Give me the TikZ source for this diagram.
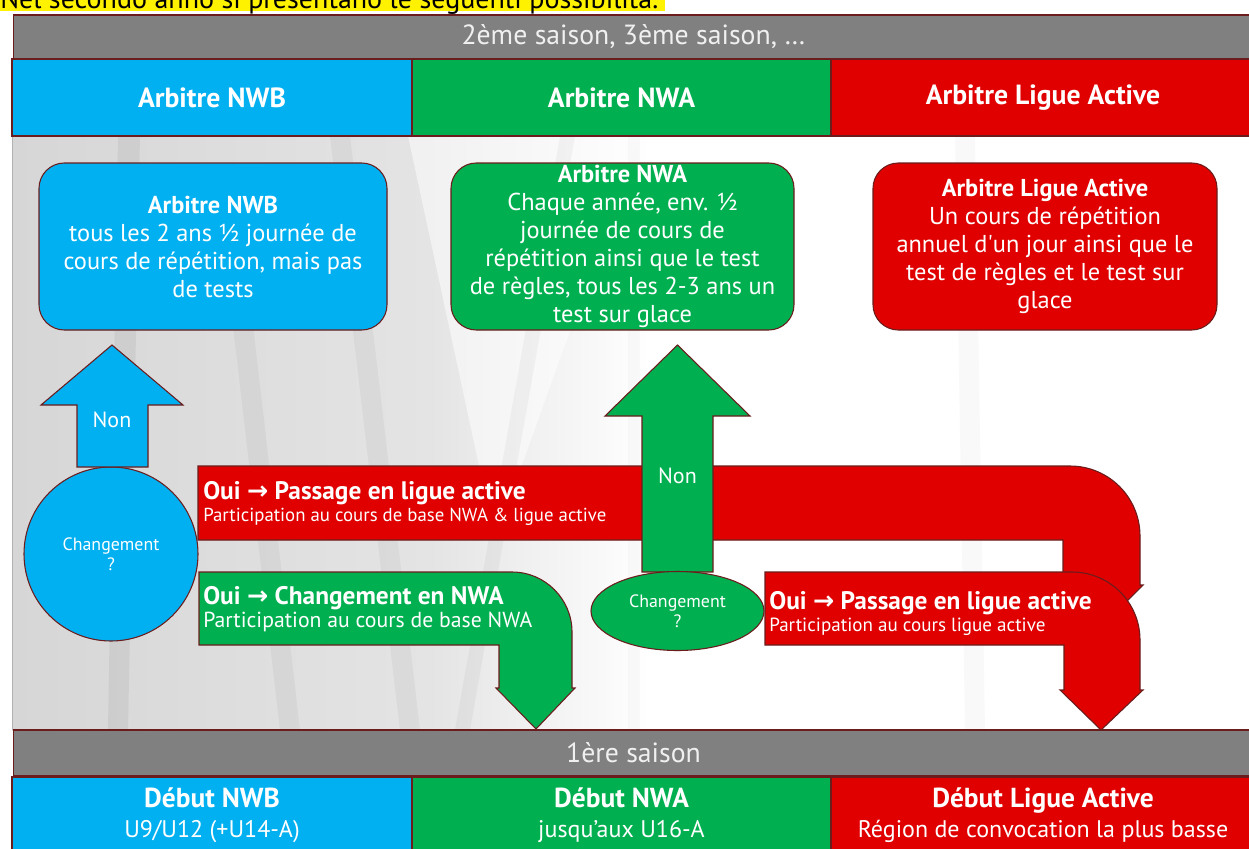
\documentclass[tikz,border=0pt]{standalone}
\usepackage{fontspec}
\setmainfont{PT Sans}
\newfontfamily\straightfont{PT Sans}
\newfontfamily\arrfont{DejaVu Sans}
\usetikzlibrary{shapes.geometric}
\definecolor{cblue}{HTML}{00B0F0}
\definecolor{cgreen}{HTML}{00B050}
\definecolor{cred}{HTML}{E00000}
\definecolor{cgray}{HTML}{808080}
\definecolor{cborder}{HTML}{6B1C1C}
\definecolor{bgA}{HTML}{D6D6D6}
\definecolor{bgB}{HTML}{E4E4E4}
\newcommand{\ra}{{\arrfont\bfseries →}}
\newcommand{\sq}{{\straightfont '}}
\tikzset{
  cell/.style={draw=cborder, line width=0.8pt, inner sep=0pt, text=white, align=center},
  rbox/.style={draw=cborder, line width=0.8pt, rounded corners=19pt, inner sep=0pt, text=white, align=center,
    font=\fontsize{18.3}{21}\selectfont},
  bshape/.style={draw=cborder, line width=0.8pt},
  hdrfont/.style={font=\fontsize{20.8}{24}\selectfont\bfseries},
  barfont/.style={font=\fontsize{20.8}{24}\selectfont, text=white!94!black},
  ouifont/.style={font=\fontsize{19}{22}\selectfont\bfseries},
  lbl/.style={inner sep=0pt, text=white, anchor=west},
}
\begin{document}
\begin{tikzpicture}[x=0.75pt,y=-0.75pt]
\useasboundingbox (0,0) rectangle (1249,849);
\clip (0,0) rectangle (1249,849);
% heading line (cut off at the top in the reference)
\fill[yellow] (0,-20) rectangle (665,11.5);
\node[anchor=base west, inner sep=0pt, font=\fontsize{21}{24}\selectfont] (intro) at (0,9) {Nel secondo anno si presentano le seguenti possibilità.};
% background
\fill[left color=bgA, right color=bgB] (12,136) rectangle (430,730);
\fill[left color=bgB, right color=white] (430,136) rectangle (650,730);
\fill[white] (650,136) rectangle (1260,730);
\fill[white, opacity=0.5] (408,136) -- (640,136) -- (495,540) -- cycle;
\fill[black, opacity=0.05] (118,136) -- (140,136) -- (128,730) -- (108,730) -- cycle;
\fill[black, opacity=0.04] (330,136) -- (350,136) -- (420,730) -- (400,730) -- cycle;
\fill[black, opacity=0.04] (230,300) -- (250,300) -- (300,730) -- (280,730) -- cycle;
\fill[black, opacity=0.035] (560,136) -- (575,136) -- (470,730) -- (455,730) -- cycle;
\fill[black, opacity=0.025] (955,136) -- (975,136) -- (985,730) -- (965,730) -- cycle;
\fill[black, opacity=0.02] (628,136) -- (640,136) -- (640,730) -- (628,730) -- cycle;
\draw[gray!60, line width=0.6pt] (12,136) -- (12,730);
% top table
\node[cell, fill=cgray, minimum width=930pt, minimum height=33pt, barfont] (top) at (633.5,37) {2ème saison, 3ème saison, …};
\node[cell, fill=cblue, minimum width=300pt, minimum height=57.75pt, hdrfont] (hNWB) at (212,97.5) {Arbitre NWB};
\node[cell, fill=cgreen, minimum width=314.25pt, minimum height=57.75pt, hdrfont] (hNWA) at (621.5,97.5) {Arbitre NWA};
\node[cell, fill=cred, minimum width=318pt, minimum height=57.75pt, hdrfont] (hLA) at (1043,97.5) {Arbitre Ligue Active};
% boxes
\node[rbox, fill=cblue, minimum width=261pt, minimum height=125.25pt] (bNWB) at (213,246.5)
  {\textbf{Arbitre NWB}\\tous les 2 ans ½ journée de\\cours de répétition, mais pas\\de tests};
\node[rbox, fill=cgreen, minimum width=257.25pt, minimum height=125.25pt] (bNWA) at (622.5,246.5)
  {\textbf{Arbitre NWA}\\Chaque année, env. ½\\journée de cours de\\répétition ainsi que le test\\de règles, tous les 2-3 ans un\\test sur glace};
\node[rbox, fill=cred, minimum width=258pt, minimum height=125.25pt] (bLA) at (1045,246.5)
  {\textbf{Arbitre Ligue Active}\\Un cours de répétition\\annuel d\sq un jour ainsi que le\\test de règles et le test sur\\glace};
% big red arrow (upper)
\path[bshape, fill=cred] (198,466) -- (1070,466) .. controls (1108.7,466) and (1140,497.3) .. (1140,536)
  -- (1140,585) -- (1143,585) -- (1101,627) -- (1059,585) -- (1063,585) -- (1063,540) -- (198,540) -- cycle;
\node[lbl, ouifont] (o1) at (203,493) {Oui \ra{} Passage en ligue active};
\node[lbl, font=\fontsize{14.1}{16}\selectfont] (p1) at (203,517) {Participation au cours de base NWA \& ligue active};
% green Non arrow
\path[bshape, fill=cgreen] (642,572) -- (642,416) -- (605,416) -- (677.5,345) -- (750,416) -- (713,416) -- (713,572) -- cycle;
\node[inner sep=0pt, text=white, font=\fontsize{16.5}{20}\selectfont] (non2) at (677.5,476) {Non};
% green ellipse
\node[ellipse, draw=cborder, line width=0.8pt, fill=cgreen, minimum width=129.75pt, minimum height=59.25pt, inner sep=0pt,
  text=white, align=center, font=\fontsize{13.4}{15}\selectfont] (e1) at (677.5,611) {Changement\\?};
% green Oui arrow
\path[bshape, fill=cgreen] (199,572) -- (512,572) .. controls (545,572) and (572,599) .. (572,632)
  -- (572,688) -- (575,688) -- (536,729) -- (496,688) -- (499,688) -- (499,645) -- (199,645) -- cycle;
\node[lbl, ouifont] (o2) at (203,598) {Oui \ra{} Changement en NWA};
\node[lbl, font=\fontsize{16.3}{18}\selectfont] (p2) at (203,622) {Participation au cours de base NWA};
% red lower arrow
\path[bshape, fill=cred] (765,572) -- (1072,572) .. controls (1109.6,572) and (1140,602.4) .. (1140,640)
  -- (1140,690) -- (1143,690) -- (1101,730) -- (1060,690) -- (1064,690) -- (1064,645) -- (765,645) -- cycle;
\node[lbl, ouifont] (o3) at (769,603) {Oui \ra{} Passage en ligue active};
\node[lbl, font=\fontsize{14.3}{16}\selectfont] (p3) at (769,627) {Participation au cours ligue active};
% blue circle and arrow
\node[circle, draw=cborder, line width=0.8pt, fill=cblue, minimum size=130.5pt, inner sep=0pt,
  text=white, align=center, font=\fontsize{13.4}{15}\selectfont] (c1) at (111,554) {Changement\\?};
\path[bshape, fill=cblue] (77,467) -- (77,405) -- (41,405) -- (112,345) -- (183,405) -- (148,405) -- (148,467) -- cycle;
\node[inner sep=0pt, text=white, font=\fontsize{16.5}{20}\selectfont] (non1) at (112,420) {Non};
% bottom table
\node[cell, fill=cgray, minimum width=930pt, minimum height=34.5pt, barfont] (bot) at (633.5,753) {1ère saison};
\node[cell, fill=cblue, minimum width=300pt, minimum height=57.75pt, font=\fontsize{18}{22.5}\selectfont] (dNWB) at (212,815.5)
  {{\fontsize{20.6}{22.5}\selectfont\bfseries Début NWB}\\U9/U12 (+U14-A)};
\node[cell, fill=cgreen, minimum width=314.25pt, minimum height=57.75pt, font=\fontsize{18}{22.5}\selectfont] (dNWA) at (621.5,815.5)
  {{\fontsize{20.6}{22.5}\selectfont\bfseries Début NWA}\\jusqu’aux U16-A};
\node[cell, fill=cred, minimum width=318pt, minimum height=57.75pt, font=\fontsize{18}{22.5}\selectfont] (dLA) at (1043,815.5)
  {{\fontsize{20.6}{22.5}\selectfont\bfseries Début Ligue Active}\\Région de convocation la plus basse};
\end{tikzpicture}
\end{document}
